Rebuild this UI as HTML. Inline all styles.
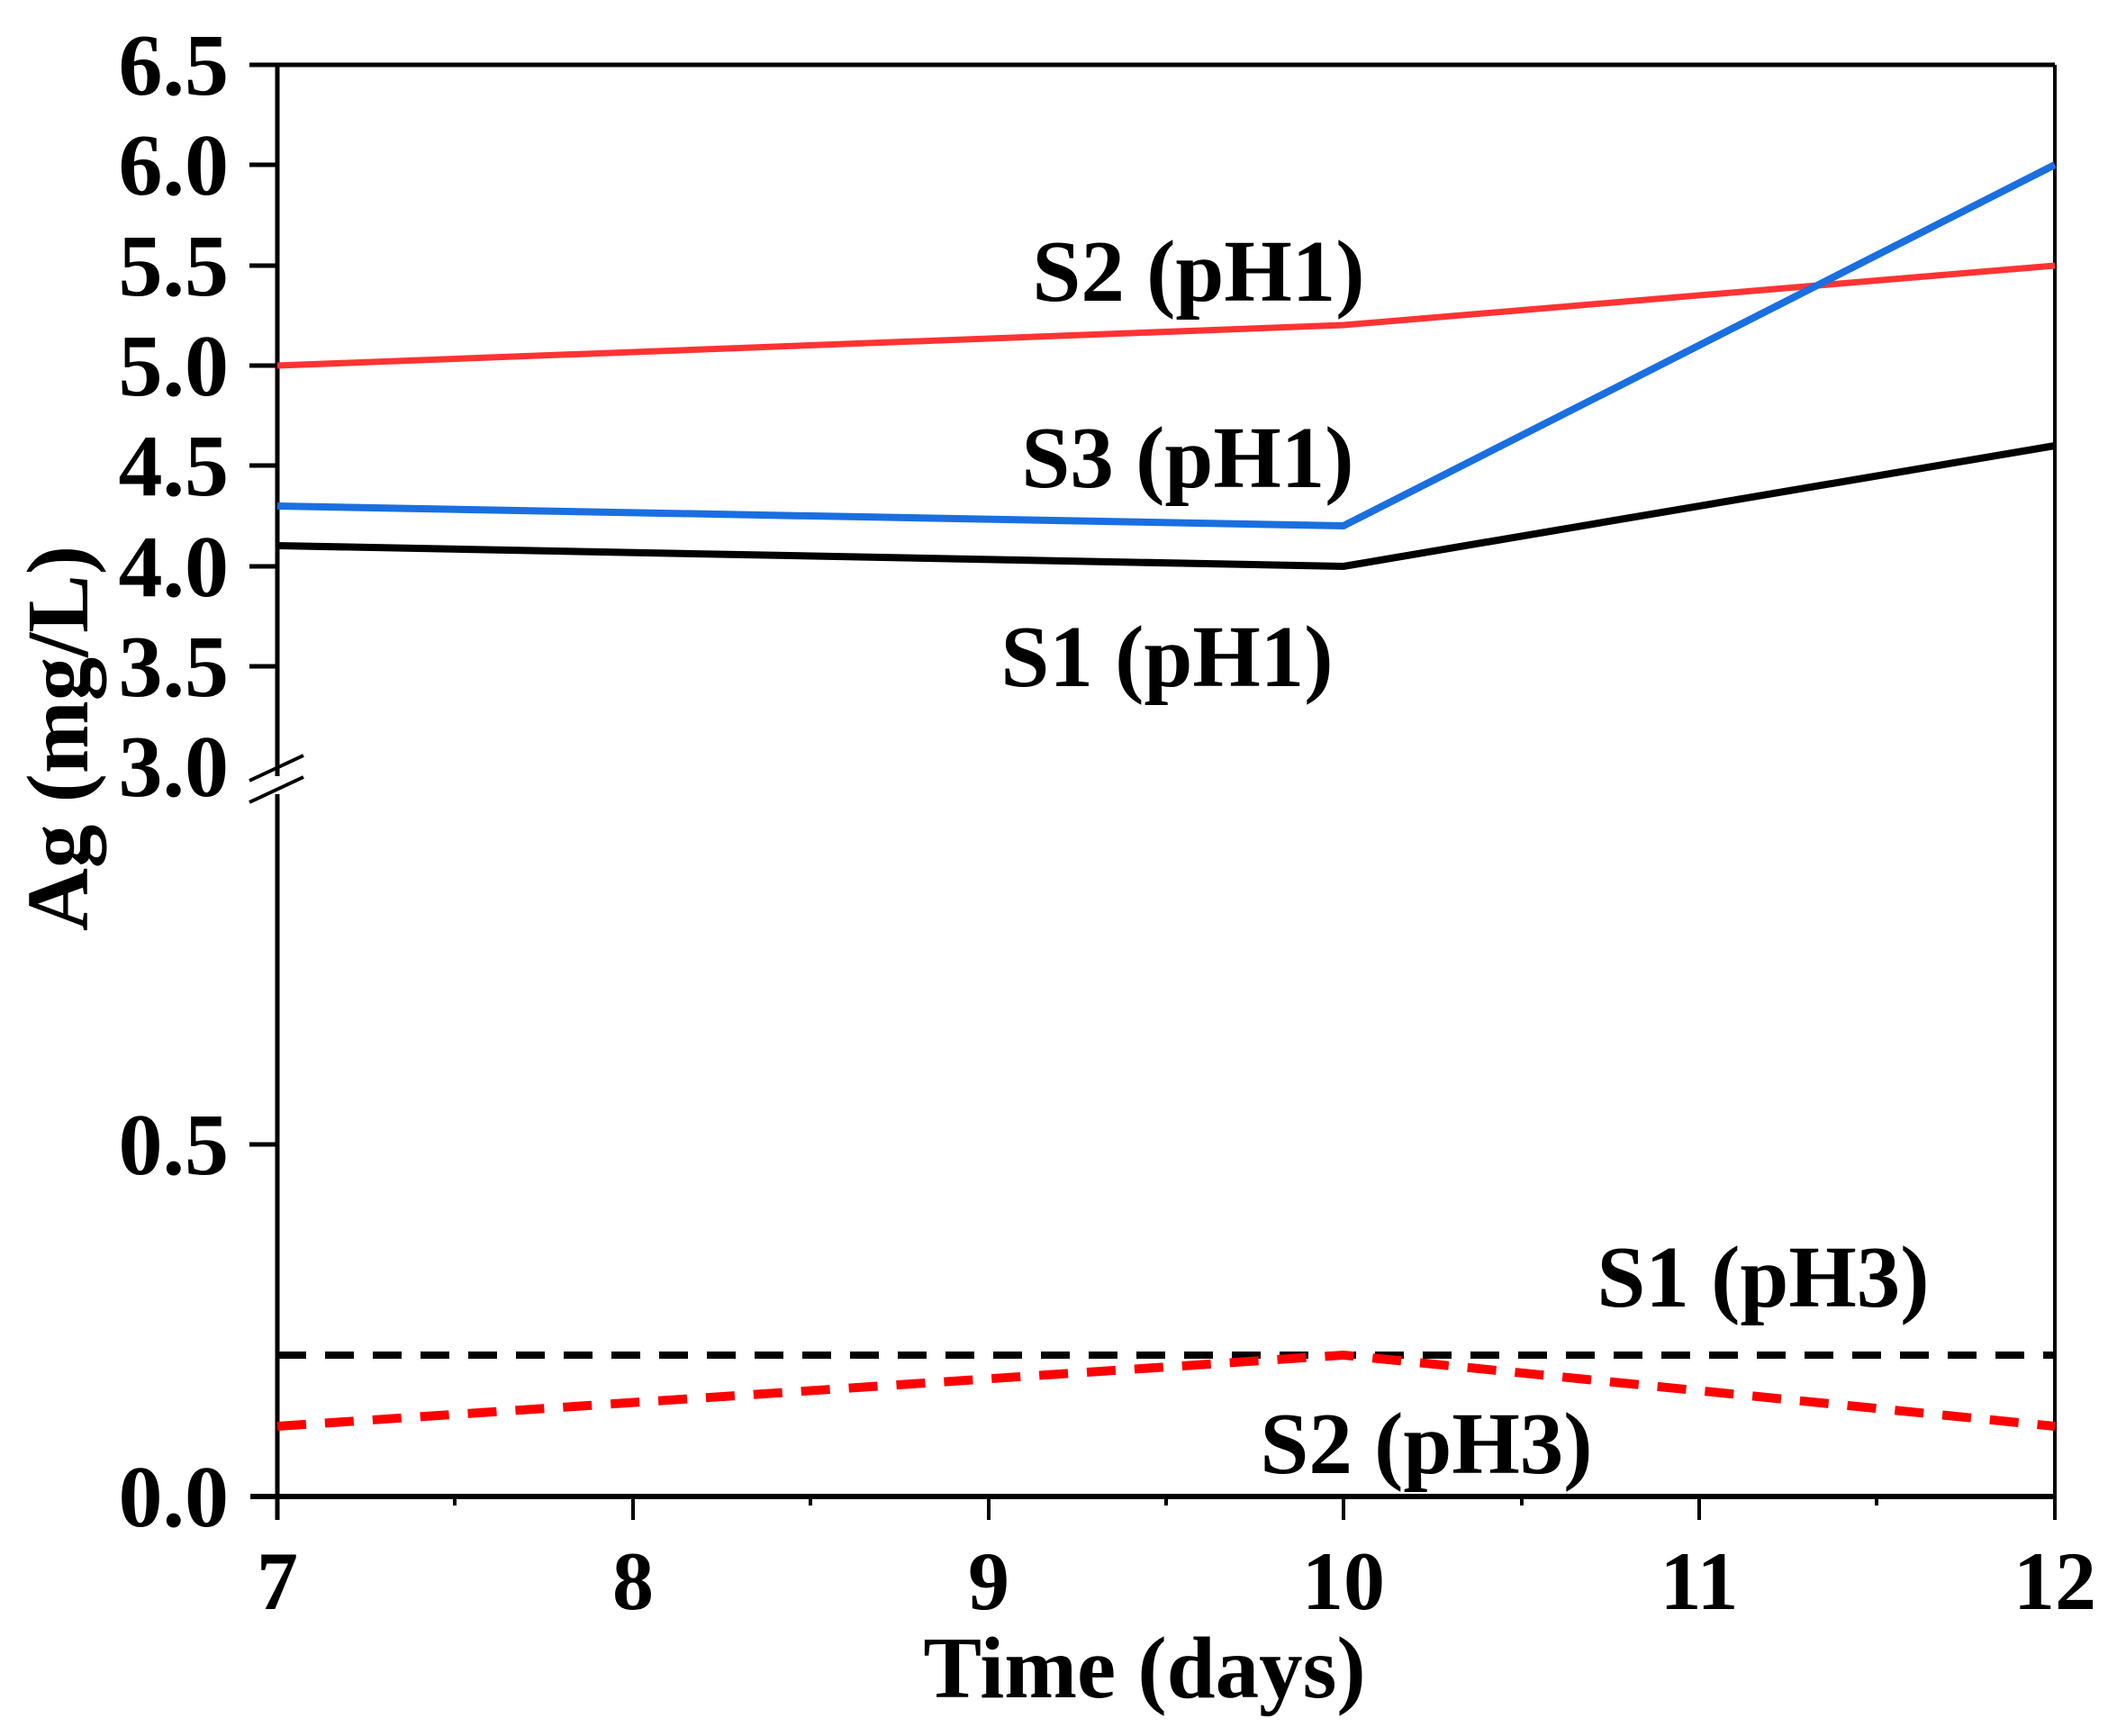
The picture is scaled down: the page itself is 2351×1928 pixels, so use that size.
<!DOCTYPE html>
<html><head><meta charset="utf-8"><style>
html,body{margin:0;padding:0;background:#fff;}
svg{display:block;}
text{font-family:"Liberation Serif",serif;font-weight:bold;fill:#000;}
</style></head><body>
<svg width="2351" height="1928" viewBox="0 0 2351 1928" xmlns="http://www.w3.org/2000/svg">
<line x1="277" y1="72" x2="2282" y2="72" stroke="#000" stroke-width="5"/>
<line x1="2282" y1="72" x2="2282" y2="1662" stroke="#000" stroke-width="4"/>
<line x1="278" y1="1662" x2="2284" y2="1662" stroke="#000" stroke-width="6"/>
<line x1="308" y1="72" x2="308" y2="862" stroke="#000" stroke-width="5"/>
<line x1="308" y1="882" x2="308" y2="1688" stroke="#000" stroke-width="5"/>
<line x1="277" y1="867" x2="337" y2="839" stroke="#000" stroke-width="4"/>
<line x1="277" y1="891" x2="337" y2="863" stroke="#000" stroke-width="4"/>
<g stroke="#000" stroke-width="5">
<line x1="277" y1="183" x2="308" y2="183"/>
<line x1="277" y1="295" x2="308" y2="295"/>
<line x1="277" y1="406" x2="308" y2="406"/>
<line x1="277" y1="517" x2="308" y2="517"/>
<line x1="277" y1="629" x2="308" y2="629"/>
<line x1="277" y1="740" x2="308" y2="740"/>
<line x1="277" y1="1271" x2="308" y2="1271"/>
</g>
<g stroke="#000" stroke-width="4">
<line x1="308" y1="1662" x2="308" y2="1688"/>
<line x1="703" y1="1662" x2="703" y2="1688"/>
<line x1="1098" y1="1662" x2="1098" y2="1688"/>
<line x1="1492" y1="1662" x2="1492" y2="1688"/>
<line x1="1887" y1="1662" x2="1887" y2="1688"/>
<line x1="2282" y1="1662" x2="2282" y2="1688"/>
<line x1="505" y1="1662" x2="505" y2="1672"/>
<line x1="900" y1="1662" x2="900" y2="1672"/>
<line x1="1295" y1="1662" x2="1295" y2="1672"/>
<line x1="1690" y1="1662" x2="1690" y2="1672"/>
<line x1="2084" y1="1662" x2="2084" y2="1672"/>
</g>
<g font-size="98" text-anchor="end">
<text x="254" y="105">6.5</text>
<text x="254" y="216">6.0</text>
<text x="254" y="328">5.5</text>
<text x="254" y="439">5.0</text>
<text x="254" y="550">4.5</text>
<text x="254" y="662">4.0</text>
<text x="254" y="773">3.5</text>
<text x="254" y="884">3.0</text>
<text x="254" y="1304">0.5</text>
<text x="254" y="1695">0.0</text>
</g>
<g font-size="92" text-anchor="middle">
<text x="308" y="1787">7</text>
<text x="703" y="1787">8</text>
<text x="1098" y="1787">9</text>
<text x="1492" y="1787">10</text>
<text x="1887" y="1787">11</text>
<text x="2282" y="1787">12</text>
</g>
<text x="1271" y="1885" font-size="97" text-anchor="middle">Time (days)</text>
<text transform="translate(97,820) rotate(-90)" font-size="97" text-anchor="middle">Ag (mg/L)</text>
<polyline points="308,406 1492,361 2282,295" fill="none" stroke="#ff3333" stroke-width="7"/>
<polyline points="308,562 1492,584 2282,183" fill="none" stroke="#1a6fe0" stroke-width="8"/>
<polyline points="308,606 1492,629 2282,495" fill="none" stroke="#000" stroke-width="8"/>
<line x1="308" y1="1505" x2="2282" y2="1505" stroke="#000" stroke-width="8" stroke-dasharray="32,21"/>
<polyline points="308,1584 1492,1505 2282,1584" fill="none" stroke="#ff0000" stroke-width="10" stroke-dasharray="32,21"/>
<g font-size="97" text-anchor="middle">
<text x="1331" y="334">S2 (pH1)</text>
<text x="1319" y="541">S3 (pH1)</text>
<text x="1296" y="762">S1 (pH1)</text>
<text x="1958" y="1451">S1 (pH3)</text>
<text x="1584" y="1636">S2 (pH3)</text>
</g>
</svg>
</body></html>
